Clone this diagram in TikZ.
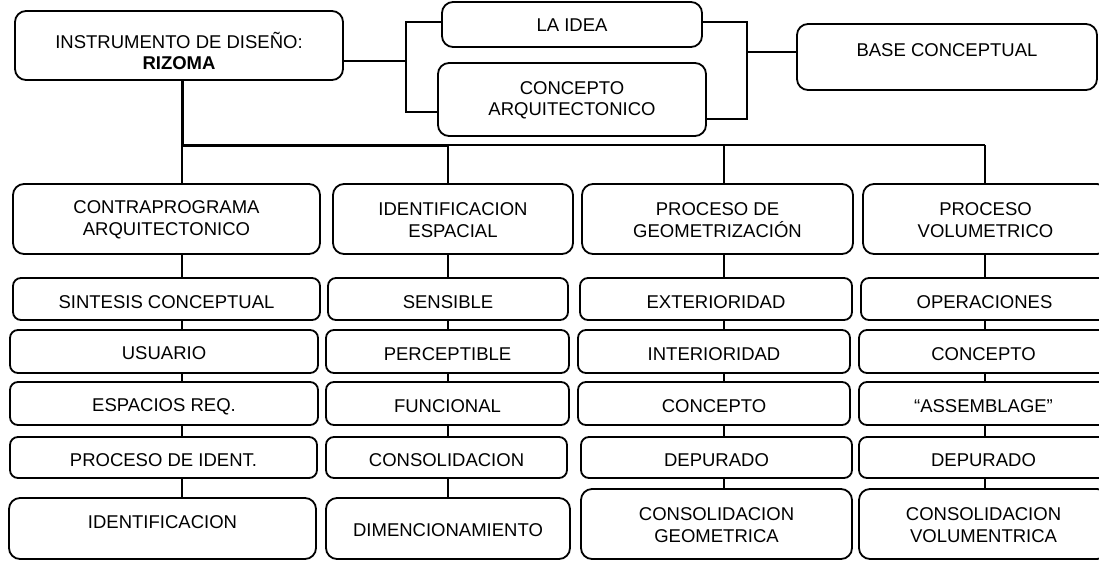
\documentclass[tikz,border=0pt]{standalone}
\usepackage{fontspec}
\setmainfont{Liberation Sans}
\newcommand\mybox[8][]{%
  \node[box,#1,minimum width={(#5-#3)*1pt},minimum height={(#6-#4)*1pt}] (#2) at ({(#3+#5)/2},{(#4+#6)/2}) {};
  \node[txt] (#2t) at ({(#3+#5)/2},{(#4+#6)/2+(#7)}) {#8};
}
\begin{document}
\begin{tikzpicture}[x=1pt,y=-1pt,
  box/.style={draw,line width=1.8pt,rounded corners=8pt,inner sep=0pt},
  big/.style={rounded corners=11pt},
  txt/.style={font=\fontsize{18.5}{21.5}\selectfont,align=center,inner sep=0pt},
  con/.style={line width=1.7pt},
  trunk/.style={line width=3pt}]
\useasboundingbox (0,0) rectangle (1099,560);
\clip (0,0) rectangle (1099,560);
% top
\mybox[big]{instr}{15}{11}{343}{80}{5.5}{INSTRUMENTO DE DISEÑO:\\\textbf{RIZOMA}}
\mybox[big]{idea}{442}{2}{702}{47}{1}{LA IDEA}
\mybox[big]{concepto}{438}{63}{706}{136}{1}{CONCEPTO\\ARQUITECTONICO}
\mybox[big]{base}{797}{24}{1097}{90}{-7}{BASE CONCEPTUAL}
% column 1
\mybox[big]{h1}{13}{184}{320}{254}{1}{CONTRAPROGRAMA\\ARQUITECTONICO}
\mybox{a2}{13}{278}{320}{320}{3}{SINTESIS CONCEPTUAL}
\mybox{a3}{10}{330}{318}{373}{2}{USUARIO}
\mybox{a4}{10}{382}{318}{425}{3}{ESPACIOS REQ.}
\mybox{a5}{10}{437}{317}{478}{3}{PROCESO DE IDENT.}
\mybox[big]{a6}{9}{498}{316}{559}{-6}{IDENTIFICACION}
% column 2
\mybox[big]{h2}{333}{184}{573}{254}{1}{IDENTIFICACION\\ESPACIAL}
\mybox{b2}{328}{278}{568}{320}{3}{SENSIBLE}
\mybox{b3}{326}{330}{569}{373}{3}{PERCEPTIBLE}
\mybox{b4}{326}{382}{569}{425}{3}{FUNCIONAL}
\mybox{b5}{326}{437}{567}{478}{3}{CONSOLIDACION}
\mybox[big]{b6}{326}{498}{570}{559}{2}{DIMENCIONAMIENTO}
% column 3
\mybox[big]{h3}{582}{184}{853}{254}{1}{PROCESO DE\\GEOMETRIZACIÓN}
\mybox{c2}{580}{278}{852}{320}{3}{EXTERIORIDAD}
\mybox{c3}{578}{330}{850}{373}{3}{INTERIORIDAD}
\mybox{c4}{578}{382}{850}{425}{3}{CONCEPTO}
\mybox{c5}{581}{437}{852}{478}{3}{DEPURADO}
\mybox[big]{c6}{581}{489}{852}{559}{1}{CONSOLIDACION\\GEOMETRICA}
% column 4
\mybox[big]{h4}{863}{184}{1108}{254}{1}{PROCESO\\VOLUMETRICO}
\mybox{d2}{861}{278}{1108}{320}{3}{OPERACIONES}
\mybox{d3}{859}{330}{1108}{373}{3}{CONCEPTO}
\mybox{d4}{859}{382}{1108}{425}{3}{“ASSEMBLAGE”}
\mybox{d5}{859}{437}{1108}{478}{3}{DEPURADO}
\mybox[big]{d6}{859}{489}{1108}{559}{1}{CONSOLIDACION\\VOLUMENTRICA}
% brackets
\coordinate (b1) at (406,61);
\coordinate (b1t) at (406,22);
\coordinate (b1b) at (406,112);
\coordinate (b2t) at (747,22);
\coordinate (b2b) at (747,119);
\coordinate (b2m) at (747,52);
\draw[con] (instr.east |- b1) -- (b1);
\draw[con] (idea.west |- b1t) -- (b1t) -- (b1b) -- (concepto.west |- b1b);
\draw[con] (idea.east |- b2t) -- (b2t) -- (b2b) -- (concepto.east |- b2b);
\draw[con] (b2m) -- (base.west |- b2m);
% trunk
\coordinate (j1) at (182,145);
\coordinate (j2) at (448,145);
\coordinate (j3) at (724,145);
\coordinate (j4) at (985,145);
\draw[trunk] (instr.south -| j1) -- (j1) -- (j2);
\draw[con] (j2) -- (j4);
\draw[con] (j1) -- (h1.north -| j1);
\draw[con] (j2) -- (h2.north -| j2);
\draw[con] (j3) -- (h3.north -| j3);
\draw[con] (j4) -- (h4.north -| j4);
% column chains
\foreach \u/\v in {h1/a2,a2/a3,a3/a4,a4/a5,a5/a6}
  \draw[con] (\u.south -| j1) -- (\v.north -| j1);
\foreach \u/\v in {h2/b2,b2/b3,b3/b4,b4/b5,b5/b6}
  \draw[con] (\u.south -| j2) -- (\v.north -| j2);
\foreach \u/\v in {h3/c2,c2/c3,c3/c4,c4/c5,c5/c6}
  \draw[con] (\u.south -| j3) -- (\v.north -| j3);
\foreach \u/\v in {h4/d2,d2/d3,d3/d4,d4/d5,d5/d6}
  \draw[con] (\u.south -| j4) -- (\v.north -| j4);
\end{tikzpicture}
\end{document}
